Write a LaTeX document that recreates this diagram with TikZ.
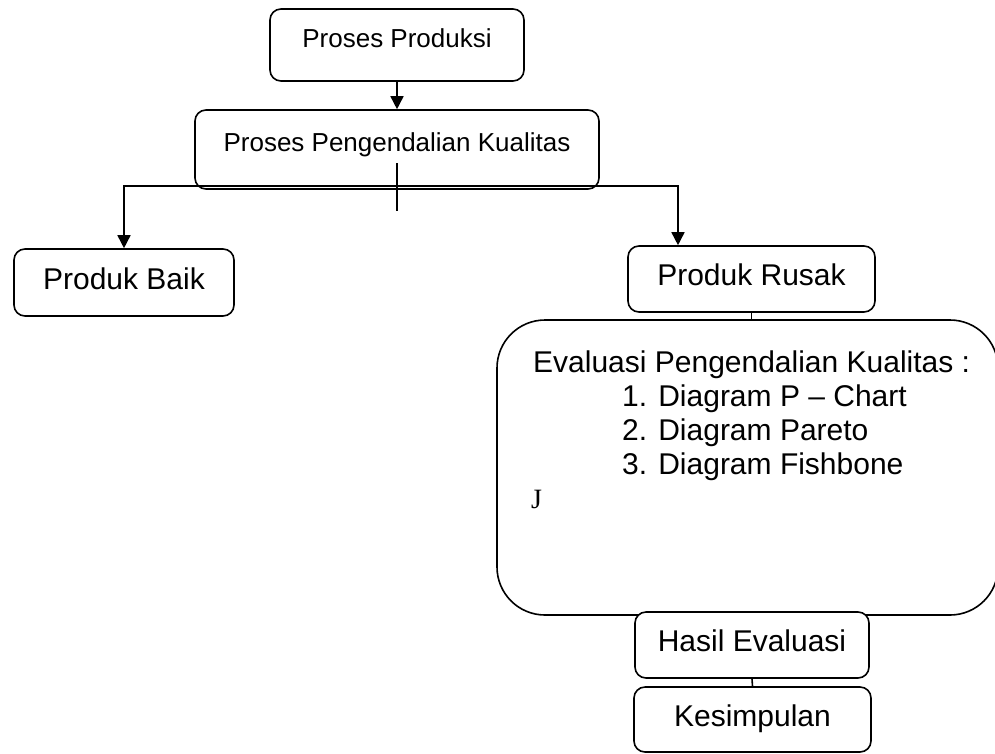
\documentclass[tikz,border=0pt]{standalone}
\usepackage{fontspec}
\setmainfont{Liberation Sans}
\newfontfamily\serifJ{Liberation Serif}
\usetikzlibrary{arrows.meta}
\begin{document}
\begin{tikzpicture}[x=1pt,y=-1pt,
  box/.style={draw, fill=white, line width=1.6pt, rounded corners=11pt, inner sep=0pt,
    font=\fontsize{30}{36}\selectfont, text height=21.5pt, text depth=8pt},
  topbox/.style={box, font=\fontsize{26}{31}\selectfont, text height=18.7pt, text depth=14pt},
  conn/.style={line width=1.6pt},
  arr/.style={conn, -{Triangle[length=13pt,width=13pt]}},
  lbl/.style={font=\fontsize{30}{36}\selectfont, inner sep=0pt, anchor=base west}]
\clip (0,0) rectangle (995,753);
\fill[white] (0,0) rectangle (995,753);

\node[topbox, minimum width=254pt, minimum height=72pt] (pp) at (397,45) {Proses Produksi};
\node[topbox, minimum width=404pt, minimum height=79pt] (ppk) at (397,149.5) {Proses Pengendalian Kualitas};
\node[box, minimum width=220pt, minimum height=67pt] (baik) at (124,282.5) {Produk Baik};
\node[box, minimum width=247pt, minimum height=66pt] (rusak) at (751.5,279) {Produk Rusak};
\node[draw, fill=white, line width=1.6pt, rounded corners=48pt, minimum width=501pt,
  minimum height=295pt, inner sep=0pt] (eval) at (747.5,467.5) {};
\node[box, minimum width=234pt, minimum height=66pt] (hasil) at (752,645) {Hasil Evaluasi};
\node[box, minimum width=237pt, minimum height=65pt] (kes) at (752.5,719.5) {Kesimpulan};

\node[lbl] (e0) at (533,372) {Evaluasi Pengendalian Kualitas :};
\node[lbl] (e1) at (622,406) {1. Diagram P – Chart};
\node[lbl] (e2) at (622,440) {2. Diagram Pareto};
\node[lbl] (e3) at (622,474) {3. Diagram Fishbone};
\node[lbl, font=\serifJ\fontsize{28}{34}\selectfont] (ej) at (531,508) {J};

\coordinate (t1) at (397,163);
\coordinate (t2) at (397,211);
\coordinate (j) at (397,186);
\coordinate (rx) at (678,0);

\draw[arr] (pp.south) -- (ppk.north);
\draw[conn] (t1) -- (t2);
\draw[arr] (j) -| (baik.north);
\draw[arr] (j) -| (rusak.north -| rx);
\draw[conn] (rusak.south) -- (rusak.south |- eval.north);
\draw[conn] (hasil.south) -- (kes.north);
\end{tikzpicture}
\end{document}
